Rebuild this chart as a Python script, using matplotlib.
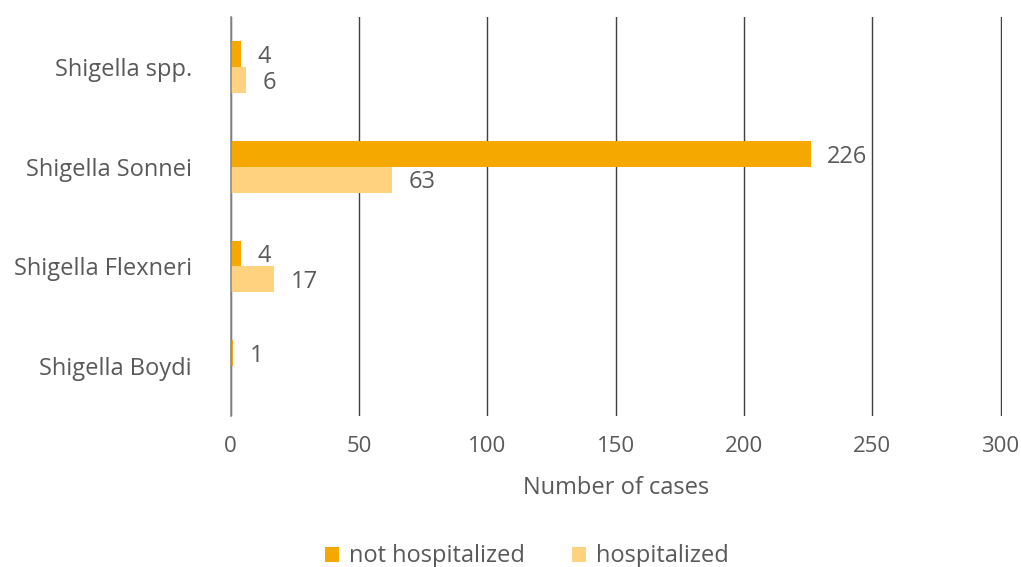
import matplotlib
matplotlib.use("Agg")
import matplotlib.pyplot as plt
import numpy as np

categories = ["Shigella spp.", "Shigella Sonnei", "Shigella Flexneri", "Shigella Boydi"]
not_hospitalized = [4, 226, 4, 1]
hospitalized = [6, 63, 17, 0]
series_names = ["not hospitalized", "hospitalized"]
xticks = [0, 50, 100, 150, 200, 250, 300]

c_not = "#F5A800"
c_hosp = "#FFD27F"
txt = "#595959"

plt.rcParams['font.family'] = ['Open Sans', 'DejaVu Sans']

fig = plt.figure(figsize=(10.21, 5.67), dpi=100)
ax = fig.add_axes([0.226, 0.266, 0.755, 0.704])

y = np.arange(len(categories))
h = 0.26
ax.barh(y - h/2, not_hospitalized, height=h, color=c_not, label=series_names[0], zorder=3)
ax.barh(y + h/2, [v if v > 0 else np.nan for v in hospitalized], height=h, color=c_hosp, label=series_names[1], zorder=3)

for yi, v in zip(y, not_hospitalized):
    ax.annotate(str(v), (v, yi - h/2), xytext=(12, -2), textcoords="offset points",
                va="center", ha="left", fontsize=17, color=txt)
for yi, v in zip(y, hospitalized):
    if v > 0:
        ax.annotate(str(v), (v, yi + h/2), xytext=(12, -2), textcoords="offset points",
                    va="center", ha="left", fontsize=17, color=txt)

ax.set_ylim(len(categories) - 0.5, -0.5)
ax.set_xlim(0, 300.4)
ax.set_xticks(xticks)
ax.set_yticks(y)
ax.set_yticklabels(categories)
ax.tick_params(axis='both', length=0, colors=txt)
ax.tick_params(axis='x', labelsize=16, pad=14)
ax.tick_params(axis='y', labelsize=17, pad=28)
ax.grid(axis='x', color="#404040", linewidth=1, zorder=0)
for s in ["top", "right", "bottom"]:
    ax.spines[s].set_visible(False)
ax.spines["left"].set_color("#8c8c8c")
ax.spines["left"].set_linewidth(1.2)
ax.spines["left"].set_zorder(4)

ax.set_xlabel("Number of cases", fontsize=17, color=txt, labelpad=14)

fig.legend(loc="lower center", bbox_to_anchor=(0.516, -0.04), ncol=2, frameon=False,
           fontsize=17, labelcolor=txt, handlelength=0.6, handleheight=0.6,
           columnspacing=2.0, handletextpad=0.4)

fig.savefig("out.png", dpi=100, facecolor="white")
